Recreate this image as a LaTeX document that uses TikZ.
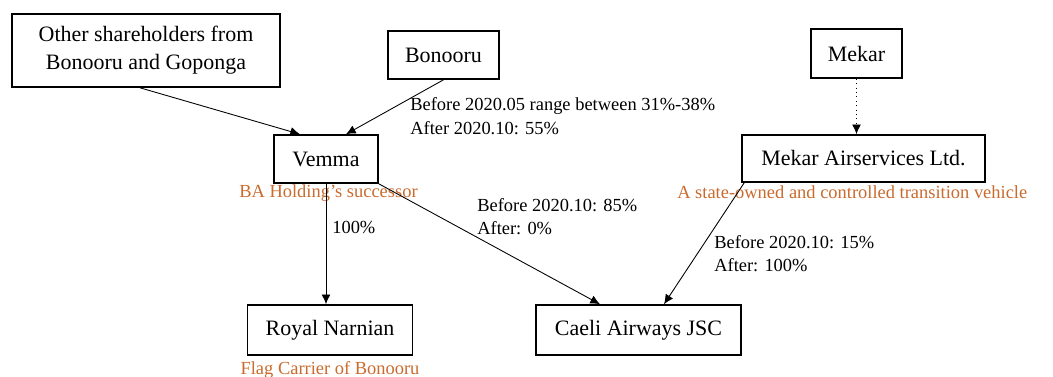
\documentclass[tikz,border=0pt]{standalone}
\usepackage{fontspec}
\setmainfont{Liberation Serif}
\usetikzlibrary{arrows.meta}

\tikzstyle{base}=[rectangle,
                    draw=black,
                    line width=0.9pt,
                    inner sep=0pt,
                    minimum height=0.96cm,
                    text centered,
                    font=\fontsize{12.5}{16}\selectfont]
\definecolor{RemarkColor}{rgb}{0.79,0.42,0.18}
\tikzstyle{holder}=[base, align=center]
\tikzstyle{share}=[anchor=west, align=left, font=\fontsize{10.5}{13.5}\selectfont]
\tikzstyle{remark}=[text=RemarkColor, font=\fontsize{10.5}{13.5}\selectfont]

\begin{document}
\begin{tikzpicture}[line width=0.5pt,
                    >={Latex[length=5.5pt, width=5pt]}]
      \useasboundingbox (0,0) rectangle (21.06,-7.52);

      \node at ( 2.92, -1.01) (others)     [holder, minimum width=5.36cm, minimum height=1.46cm] {Other shareholders from\\Bonooru and Goponga};
      \node at ( 8.87, -1.10) (bonooru)    [holder, minimum width=2.22cm]                       {Bonooru};
      \node at (17.13, -1.07) (mekar)      [holder, minimum width=1.82cm, minimum height=0.98cm] {Mekar};
      \node at ( 6.52, -3.18) (vemma)      [holder, minimum width=2.08cm]                       {Vemma};
      \node at (17.27, -3.17) (mekar_air)  [holder, minimum width=4.86cm, minimum height=0.94cm] {Mekar Airservices Ltd.};
      \node at ( 6.60, -6.60) (royal)      [holder, minimum width=3.30cm, minimum height=1.0cm]  {Royal Narnian};
      \node at (12.77, -6.60) (caeli)      [holder, minimum width=4.10cm, minimum height=1.0cm]  {Caeli Airways JSC};

      \node at ( 8.08, -2.32) (share_vemma)  [share] {Before 2020.05 range between 31\%-38\%\\After 2020.10: 55\%};
      \node at ( 6.52, -4.54) (share_royal)  [share] {100\%};
      \node at ( 9.42, -4.33) (share_caeli)  [share] {Before 2020.10: 85\%\\After: 0\%};
      \node at (14.16, -5.07) (share_mekar)  [share] {Before 2020.10: 15\%\\After: 100\%};

      \node at ( 6.57, -3.86) (note_vemma)   [remark]              {BA Holding's successor};
      \node at (13.42, -3.84) (note_mekar)   [remark, anchor=west] {A state-owned and controlled transition vehicle};
      \node at ( 6.60, -7.40) (note_royal)   [remark]              {Flag Carrier of Bonooru};

      \draw[->] ([xshift=-0.12cm]others.south)        -- ([xshift=-0.52cm]vemma.north);
      \draw[->] (bonooru.south)                       -- ([xshift=0.40cm]vemma.north);
      \draw[->, dotted] (mekar)                       -- (mekar |- mekar_air.north);
      \draw[->] (vemma)                               -- (vemma |- royal.north);
      \draw[->] (vemma.south east)                    -- ([xshift=-0.77cm]caeli.north);
      \draw[->] ([xshift=0.06cm]mekar_air.south west) -- ([xshift=0.51cm]caeli.north);
  \end{tikzpicture}
\end{document}
